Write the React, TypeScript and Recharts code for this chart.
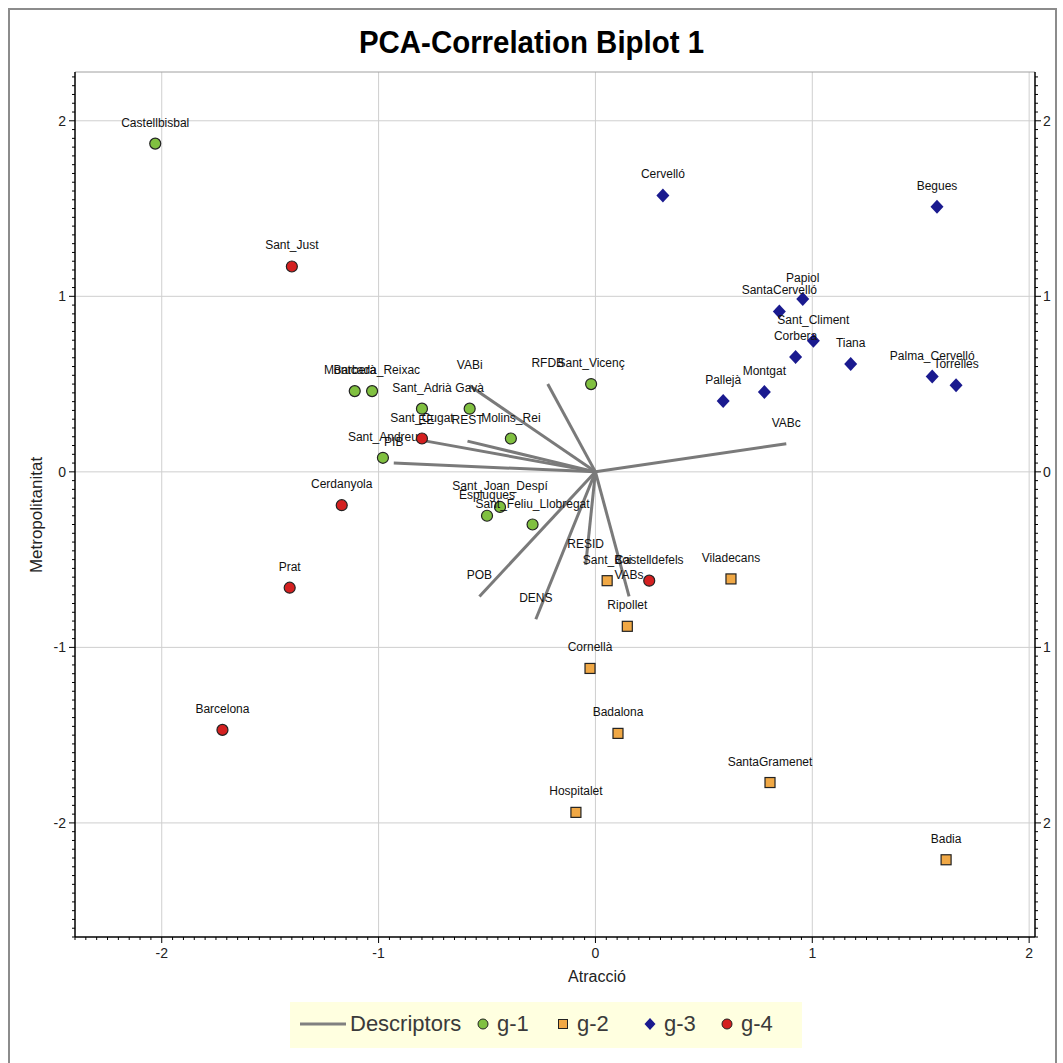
import React from "react";
import { ScatterChart, Scatter, XAxis, YAxis, CartesianGrid, ReferenceLine } from "recharts";

const FONT = "'Liberation Sans', Arial, Helvetica, sans-serif";

// axis ranges and labelled ticks
const X_DOMAIN = [-2.4, 2.027];
const Y_DOMAIN = [-2.65, 2.278];
const MAJOR_X = [-2, -1, 0, 1, 2];
const MAJOR_Y = [-2, -1, 0, 1, 2];

// g-1 (green circles)
const G1_NAMES = ["Castellbisbal", "Barberà", "Montcada_Reixac", "Sant_Adrià", "Gavà", "Molins_Rei", "Sant_Andreu", "Sant_Vicenç", "Sant_Joan_Despí", "Esplugues", "Sant_Feliu_Llobregat"];
const G1_X = [-2.03, -1.11, -1.03, -0.8, -0.58, -0.39, -0.98, -0.02, -0.44, -0.5, -0.29];
const G1_Y = [1.87, 0.46, 0.46, 0.36, 0.36, 0.19, 0.08, 0.5, -0.2, -0.25, -0.3];

// g-2 (orange squares)
const G2_NAMES = ["Sant_Boi", "Viladecans", "Ripollet", "Cornellà", "Badalona", "Hospitalet", "SantaGramenet", "Badia"];
const G2_X = [0.054, 0.625, 0.147, -0.025, 0.104, -0.09, 0.805, 1.617];
const G2_Y = [-0.62, -0.61, -0.88, -1.12, -1.49, -1.94, -1.77, -2.21];

// g-3 (blue diamonds)
const G3_NAMES = ["Cervelló", "Begues", "Papiol", "SantaCervelló", "Sant_Climent", "Corbera", "Tiana", "Palma_Cervelló", "Torrelles", "Montgat", "Pallejà"];
const G3_X = [0.311, 1.575, 0.956, 0.848, 1.005, 0.923, 1.177, 1.553, 1.663, 0.779, 0.589];
const G3_Y = [1.575, 1.51, 0.985, 0.914, 0.747, 0.655, 0.614, 0.543, 0.494, 0.455, 0.404];

// g-4 (red circles)
const G4_NAMES = ["Sant_Just", "Sant_Cugat", "Cerdanyola", "Prat", "Barcelona", "Castelldefels"];
const G4_X = [-1.4, -0.8, -1.17, -1.41, -1.72, 0.248];
const G4_Y = [1.17, 0.19, -0.19, -0.66, -1.47, -0.62];

// descriptor vectors (end points, start at origin)
const DESC_NAMES = ["VABc", "RFDB", "VABi", "EE", "REST", "PIB", "POB", "DENS", "RESID", "VABs"];
const DESC_X = [0.88, -0.22, -0.58, -0.78, -0.59, -0.93, -0.535, -0.275, -0.045, 0.155];
const DESC_Y = [0.16, 0.5, 0.49, 0.175, 0.175, 0.05, -0.71, -0.84, -0.53, -0.71];

const build = (names: string[], xs: number[], ys: number[]) =>
  names.map((name, i) => ({ name, x: xs[i], y: ys[i] }));

const g1 = build(G1_NAMES, G1_X, G1_Y);
const g2 = build(G2_NAMES, G2_X, G2_Y);
const g3 = build(G3_NAMES, G3_X, G3_Y);
const g4 = build(G4_NAMES, G4_X, G4_Y);
const descriptors = DESC_NAMES.map((name, i) => [
  { name: "", x: 0, y: 0 },
  { name, x: DESC_X[i], y: DESC_Y[i] },
]);

// minor tick every 0.05
const minorTicks = (lo: number, hi: number) => {
  const out: number[] = [];
  for (let i = Math.ceil(lo * 20); i <= Math.floor(hi * 20); i++) out.push(i / 20);
  return out;
};
const isMajor = (v: number) => Math.abs(v - Math.round(v)) < 1e-6;

const Label = ({ x, y, text }: any) => (
  <text x={x} y={y - 17} textAnchor="middle" fontSize={12} fontFamily={FONT} fill="#111">
    {text}
  </text>
);

const marker = (kind: string, fill: string) => (p: any) => {
  const { cx, cy, payload } = p;
  let m;
  if (kind === "circle") m = <circle cx={cx} cy={cy} r={5.5} fill={fill} stroke="#222" strokeWidth={1.2} />;
  else if (kind === "square") m = <rect x={cx - 5} y={cy - 5} width={10} height={10} fill={fill} stroke="#222" strokeWidth={1.2} />;
  else m = <path d={`M${cx},${cy - 7}L${cx + 6.5},${cy}L${cx},${cy + 7}L${cx - 6.5},${cy}Z`} fill={fill} />;
  return (
    <g>
      {m}
      <Label x={cx} y={cy} text={payload.name} />
    </g>
  );
};

const vectorEnd = (p: any) => {
  const { cx, cy, payload } = p;
  if (!payload.name) return <g />;
  return <Label x={cx} y={cy} text={payload.name} />;
};

const BottomTick = ({ x, y, payload }: any) => {
  const major = isMajor(payload.value);
  return (
    <g>
      <line x1={x} x2={x} y1={y} y2={y + (major ? 6 : 3)} stroke="#000" />
      {major && (
        <text x={x} y={y + 21} textAnchor="middle" fontSize={14} fontFamily={FONT} fill="#222">
          {Math.round(payload.value)}
        </text>
      )}
    </g>
  );
};

const LeftTick = ({ x, y, payload }: any) => {
  const major = isMajor(payload.value);
  return (
    <g>
      <line x1={x} x2={x - (major ? 6 : 3)} y1={y} y2={y} stroke="#000" />
      {major && (
        <text x={x - 9} y={y + 5} textAnchor="end" fontSize={14} fontFamily={FONT} fill="#222">
          {Math.round(payload.value)}
        </text>
      )}
    </g>
  );
};

const RightTick = ({ x, y, payload }: any) => {
  const major = isMajor(payload.value);
  return (
    <g>
      <line x1={x} x2={x + (major ? 6 : 3)} y1={y} y2={y} stroke="#000" />
      {major && (
        <text x={x + 8} y={y + 5} textAnchor="start" fontSize={14} fontFamily={FONT} fill="#222">
          {Math.abs(Math.round(payload.value))}
        </text>
      )}
    </g>
  );
};

const LegendIcon = ({ kind, fill }: any) => (
  <svg width={kind === "line" ? 46 : 14} height={14} style={{ position: "absolute", left: 0, top: 4 }}>
    {kind === "line" && <line x1={0} x2={46} y1={7} y2={7} stroke="#808080" strokeWidth={3} />}
    {kind === "circle" && <circle cx={7} cy={7} r={5} fill={fill} stroke="#222" />}
    {kind === "square" && <rect x={2.5} y={2.5} width={9} height={9} fill={fill} stroke="#222" />}
    {kind === "diamond" && <path d="M7,1L12.5,7L7,13L1.5,7Z" fill={fill} />}
  </svg>
);

const LEGEND = [
  { kind: "line", fill: "#808080", label: "Descriptors", left: 300, text: 50 },
  { kind: "circle", fill: "#80c040", label: "g-1", left: 476, text: 21 },
  { kind: "square", fill: "#f0a845", label: "g-2", left: 556, text: 21 },
  { kind: "diamond", fill: "#1a1a8f", label: "g-3", left: 643, text: 21 },
  { kind: "circle", fill: "#d42020", label: "g-4", left: 720, text: 21 },
];

export default function App() {
  const xTicks = minorTicks(X_DOMAIN[0], X_DOMAIN[1]);
  const yTicks = minorTicks(Y_DOMAIN[0], Y_DOMAIN[1]);
  return (
    <div style={{ position: "absolute", left: 0, top: 0, width: 1063, height: 1063, background: "#fff", overflow: "hidden", fontFamily: FONT }}>
      <div style={{ position: "absolute", left: 8, top: 8, width: 1045, height: 1070, border: "2px solid #8c8c8c" }} />
      <div style={{ position: "absolute", left: 0, top: 22, width: 1063, textAlign: "center", fontSize: 32, lineHeight: "40px", fontWeight: "bold", color: "#000", transform: "scaleX(0.92)" }}>
        PCA-Correlation Biplot 1
      </div>
      <div style={{ position: "absolute", left: 0, top: 0 }}>
        <ScatterChart width={1063} height={1063} margin={{ top: 72, right: 0, bottom: 96, left: 15 }}>
          <CartesianGrid horizontalValues={MAJOR_Y} verticalValues={MAJOR_X} stroke="#cfcfcf" strokeDasharray="" />
          <XAxis
            type="number"
            dataKey="x"
            domain={X_DOMAIN}
            allowDataOverflow
            ticks={xTicks}
            interval={0}
            height={30}
            tickSize={0}
            tickMargin={0}
            tickLine={false}
            axisLine={{ stroke: "#000", strokeWidth: 1.5 }}
            tick={BottomTick}
          />
          <YAxis
            type="number"
            dataKey="y"
            domain={Y_DOMAIN}
            allowDataOverflow
            ticks={yTicks}
            interval={0}
            width={60}
            tickSize={0}
            tickMargin={0}
            tickLine={false}
            axisLine={{ stroke: "#000", strokeWidth: 1.5 }}
            tick={LeftTick}
          />
          <YAxis
            yAxisId="right"
            orientation="right"
            type="number"
            dataKey="y"
            domain={Y_DOMAIN}
            allowDataOverflow
            ticks={yTicks}
            interval={0}
            width={28}
            tickSize={0}
            tickMargin={0}
            tickLine={false}
            axisLine={{ stroke: "#000", strokeWidth: 1.5 }}
            tick={RightTick}
          />
          <ReferenceLine y={Y_DOMAIN[1]} stroke="#a0a0a0" />
          {descriptors.map((d, i) => (
            <Scatter
              key={DESC_NAMES[i]}
              name={DESC_NAMES[i]}
              data={d}
              line={{ stroke: "#7a7a7a", strokeWidth: 3 }}
              shape={vectorEnd}
              isAnimationActive={false}
            />
          ))}
          <Scatter name="g-1" data={g1} shape={marker("circle", "#80c040")} isAnimationActive={false} />
          <Scatter name="g-2" data={g2} shape={marker("square", "#f0a845")} isAnimationActive={false} />
          <Scatter name="g-3" data={g3} shape={marker("diamond", "#1a1a8f")} isAnimationActive={false} />
          <Scatter name="g-4" data={g4} shape={marker("circle", "#d42020")} isAnimationActive={false} />
        </ScatterChart>
      </div>
      <div style={{ position: "absolute", left: 0, top: 968, width: 1194, textAlign: "center", fontSize: 16, color: "#222" }}>
        Atracció
      </div>
      <div style={{ position: "absolute", left: 37, top: 515, transform: "translate(-50%, -50%) rotate(-90deg)", fontSize: 17, color: "#222", whiteSpace: "nowrap" }}>
        Metropolitanitat
      </div>
      <div style={{ position: "absolute", left: 290, top: 1002, width: 512, height: 46, background: "#ffffe0" }} />
      {LEGEND.map((l) => (
        <div key={l.label} style={{ position: "absolute", left: l.left, top: 1013, height: 24, fontSize: 22, lineHeight: "22px", color: "#3a3a3a", whiteSpace: "nowrap" }}>
          <LegendIcon kind={l.kind} fill={l.fill} />
          <span style={{ position: "absolute", left: l.text, top: 0 }}>{l.label}</span>
        </div>
      ))}
    </div>
  );
}
